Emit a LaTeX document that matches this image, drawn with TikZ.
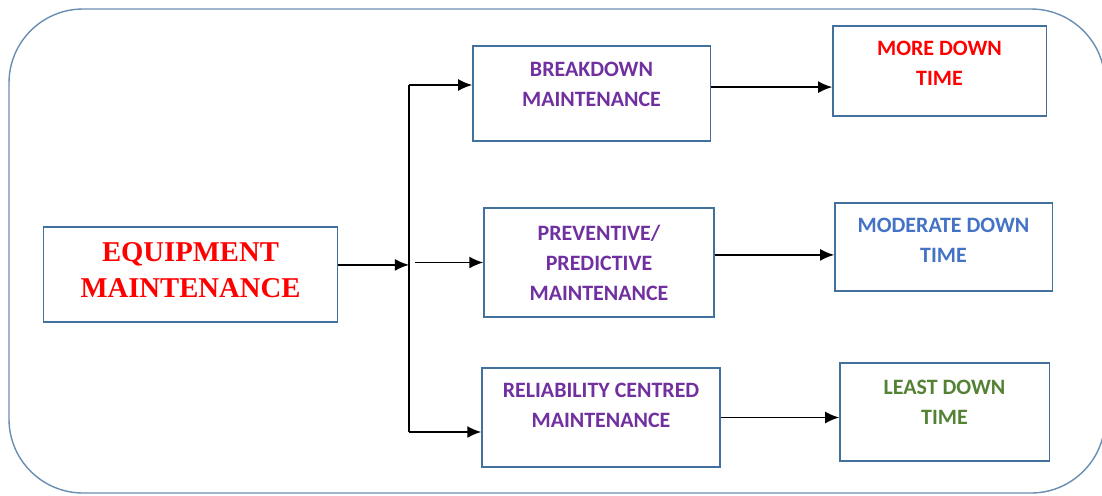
\documentclass[tikz,border=0pt]{standalone}
\usepackage{fontspec}
\setmainfont{Carlito}
\newfontfamily\timesfont{Liberation Serif}
\usepackage{tikz}
\usetikzlibrary{arrows.meta}
\definecolor{edgeblue}{HTML}{41719C}
\definecolor{frameblue}{HTML}{6A8DB2}
\definecolor{mpurple}{HTML}{7030A0}
\definecolor{mred}{HTML}{FF0000}
\definecolor{mblue}{HTML}{4472C4}
\definecolor{mgreen}{HTML}{548235}

\begin{document}
\begin{tikzpicture}[>={Latex[length=10pt,width=8.5pt]}, x=0.025cm, y=-0.025cm]
        \tikzset{kind/.style={rectangle, draw=edgeblue, line width=0.9pt, align=center, inner sep=0pt, font=\fontsize{15.6pt}{21.3pt}\selectfont\bfseries, text=mpurple}, result/.style={kind}, link/.style={->, line width=1.2pt}}
        \useasboundingbox (0,0) rectangle (1102,495);
        \draw[frameblue, line width=1pt, rounded corners=1.85cm] (9,9) rectangle (1105,493);
        \node[kind, minimum width=7.33cm, minimum height=2.375cm, text=mred, text depth=0.25cm, font=\fontsize{20.4pt}{25.6pt}\timesfont\bfseries] (eq) at (190.5,274.5) {EQUIPMENT\\MAINTENANCE};
        \node[kind, minimum width=5.93cm, minimum height=2.375cm, text depth=0.48cm] (bd) at (591.5,93.5) {BREAKDOWN\\MAINTENANCE};
        \node[kind, minimum width=5.75cm, minimum height=2.725cm] (pm) at (599,262.5) {PREVENTIVE/\\PREDICTIVE\\MAINTENANCE};
        \node[kind, minimum width=5.95cm, minimum height=2.475cm, text depth=0.6cm] (rcm) at (601,417.5) {RELIABILITY CENTRED\\MAINTENANCE};
        \node[result, minimum width=5.33cm, minimum height=2.25cm, text=mred, text depth=0.4cm] (more) at (939.5,71) {MORE DOWN\\TIME};
        \node[result, minimum width=5.43cm, minimum height=2.2cm, text=mblue, text depth=0.35cm] (mod) at (943.5,247) {MODERATE DOWN\\TIME};
        \node[result, minimum width=5.23cm, minimum height=2.45cm, text=mgreen, text depth=0.5cm] (least) at (944.5,412) {LEAST DOWN\\TIME};
        \coordinate (ttop) at (409,85);
        \coordinate (tbot) at (409,432);
        \draw[line width=1.2pt] (ttop) -- (tbot);
        \draw[link] ([yshift=0.24cm]eq.east) -- ([yshift=0.24cm]eq.east -| ttop);
        \draw[link] (ttop) -- (ttop -| bd.west);
        \draw[link] ([xshift=0.15cm]ttop |- pm.west) -- (pm.west);
        \draw[link] (tbot) -- (tbot -| rcm.west);
        \draw[link] ([yshift=0.16cm]bd.east) -- ([yshift=0.16cm]bd.east -| more.west);
        \draw[link] ([yshift=0.19cm]pm.east) -- ([yshift=0.19cm]pm.east -| mod.west);
        \draw[link] (rcm.east) -- (rcm.east -| least.west);
    \end{tikzpicture}
\end{document}
